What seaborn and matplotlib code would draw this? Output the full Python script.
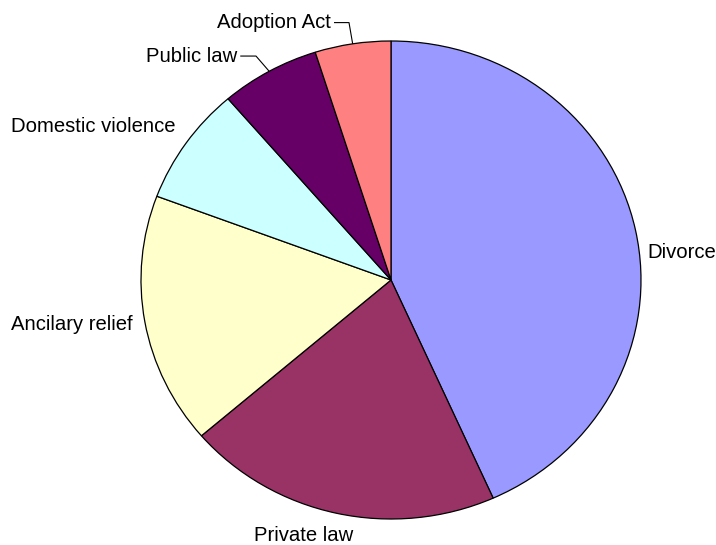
import numpy as np
import matplotlib
matplotlib.use("Agg")
import matplotlib.pyplot as plt
import seaborn as sns

# Share of cases by type (percent)
categories = ["Divorce", "Private law", "Ancilary relief",
              "Domestic violence", "Public law", "Adoption Act"]
shares = [43.3, 20.4, 17.0, 8.0, 6.4, 4.9]
colors = ["#9999FF", "#993366", "#FFFFCC", "#CCFFFF", "#660066", "#FF8080"]

sns.set_theme(style="white")
plt.rcParams["font.family"] = ["Liberation Sans", "DejaVu Sans"]

W, H = 716, 545
fig = plt.figure(figsize=(W / 100, H / 100), dpi=100)
fig.patch.set_facecolor("white")
# Slightly wider than tall, as the pie is drawn in an unequal-aspect box
ax = fig.add_axes([141 / W, 26 / H, 500 / W, 478 / H])

wedges, _ = ax.pie(shares, colors=colors, startangle=90, counterclock=False,
                   wedgeprops=dict(edgecolor="black", linewidth=0.9))
ax.set_aspect("auto")
ax.set_xlim(-1, 1)
ax.set_ylim(-1, 1)
ax.axis("off")

FS = 14.6
# Label placement: (x, y, ha, leader elbow x or None)
label_layout = {
    "Divorce": (1.024, 0.113, "left", None),
    "Private law": (-0.548, -1.071, "left", None),
    "Ancilary relief": (-1.52, -0.188, "left", None),
    "Domestic violence": (-1.52, 0.641, "left", None),
    "Public law": (-0.615, 0.937, "right", -0.54),
    "Adoption Act": (-0.24, 1.077, "right", -0.168),
}

for w, name in zip(wedges, categories):
    x, y, ha, elbow = label_layout[name]
    ax.text(x, y, name, ha=ha, va="center", fontsize=FS, color="black",
            clip_on=False)
    if elbow is not None:
        mid = np.deg2rad((w.theta1 + w.theta2) / 2)
        ex, ey = np.cos(mid), np.sin(mid)
        ax.plot([x + 0.012, elbow, ex], [y, y, ey], color="black",
                linewidth=0.8, clip_on=False, solid_capstyle="butt")

fig.savefig("out.png", dpi=100, facecolor="white")
